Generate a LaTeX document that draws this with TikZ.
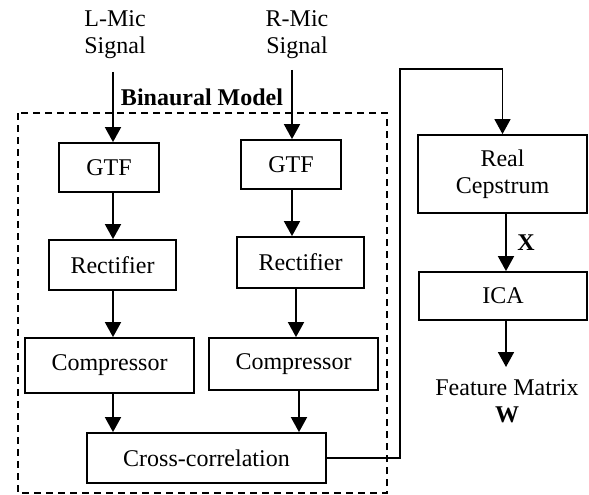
\documentclass[tikz,border=0pt]{standalone}
\usepackage{fontspec}
\setmainfont{Liberation Serif}
\usetikzlibrary{arrows.meta}
\begin{document}
\begin{tikzpicture}[x=1pt,y=-1pt,
  box/.style={draw, line width=1.8pt, inner sep=0pt, align=center, font=\fontsize{24}{27}\selectfont},
  lbl/.style={align=center, font=\fontsize{24}{27}\selectfont, inner sep=0pt},
  arr/.style={line width=1.8pt, -{Triangle[width=16pt,length=15pt]}},
  dashbox/.style={line width=1.4pt, dash pattern=on 7pt off 5pt},
  link/.style={line width=1.5pt, -{Triangle[width=16pt,length=15pt]}},
]
\useasboundingbox (0,0) rectangle (589,495);

% dashed group
\draw[dashbox] (18,113) rectangle (387,493);
\node[lbl, font=\fontsize{24}{27}\selectfont\bfseries] (bm) at (202,97) {Binaural Model};

% inputs
\node[lbl] (lsig) at (115,35) {L-Mic\\Signal};
\node[lbl] (rsig) at (297,35) {R-Mic\\Signal};

% left column
\node[box, minimum width=100pt, minimum height=49pt] (lgtf) at (109,167.5) {GTF};
\node[box, minimum width=127pt, minimum height=50pt] (lrect) at (112.5,265) {Rectifier};
\node[box, minimum width=169pt, minimum height=55pt] (lcomp) at (109.5,365.5) {Compressor};

% right column
\node[box, minimum width=100pt, minimum height=49pt] (rgtf) at (291,164.5) {GTF};
\node[box, minimum width=127pt, minimum height=51pt] (rrect) at (300.5,262.5) {Rectifier};
\node[box, minimum width=169pt, minimum height=52pt] (rcomp) at (293.5,364) {Compressor};

\node[box, minimum width=239pt, minimum height=50pt] (cc) at (206.5,458) {Cross-correlation};

% right part
\node[box, minimum width=169pt, minimum height=78pt] (cep) at (502.5,174) {Real\\Cepstrum};
\node[box, minimum width=168pt, minimum height=48pt] (ica) at (503,296) {ICA};
\node[lbl] (fm) at (507,401) {Feature Matrix\\\textbf{W}};
\node[lbl, font=\fontsize{24}{27}\selectfont\bfseries] (xl) at (526,243) {X};

% column coordinates
\coordinate (lc) at (113,0);
\coordinate (rc1) at (292,0);
\coordinate (rc2) at (296,0);
\coordinate (rc3) at (299,0);
\coordinate (lin) at (113,72);
\coordinate (rin) at (292,70);
\coordinate (top) at (400,69);
\coordinate (fmend) at (506,367);

% arrows
\draw[arr] (lin) -- (lgtf.north -| lc);
\draw[arr] (lgtf.south -| lc) -- (lrect.north -| lc);
\draw[arr] (lrect.south -| lc) -- (lcomp.north -| lc);
\draw[arr] (lcomp.south -| lc) -- (cc.north -| lc);

\draw[arr] (rin) -- (rgtf.north -| rc1);
\draw[arr] (rgtf.south -| rc1) -- (rrect.north -| rc1);
\draw[arr] (rrect.south -| rc2) -- (rcomp.north -| rc2);
\draw[arr] (rcomp.south -| rc3) -- (cc.north -| rc3);

\draw[link] (cc.east) -| (top) -| (cep.north);
\draw[arr] (cep.south -| fmend) -- (ica.north -| fmend);
\draw[arr] (ica.south -| fmend) -- (fmend);
\end{tikzpicture}
\end{document}
